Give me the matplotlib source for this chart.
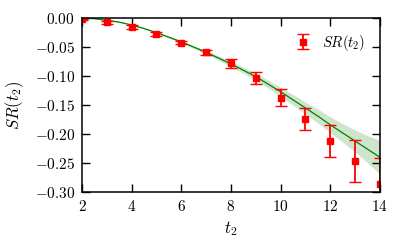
import numpy as np
import matplotlib
matplotlib.use("Agg")
import matplotlib.pyplot as plt
from matplotlib.ticker import FuncFormatter

plt.rcParams['mathtext.fontset'] = 'cm'

# the data
t2 = [2, 3, 4, 5, 6, 7, 8, 9, 10, 11, 12, 13, 14]
sr = [-0.002, -0.0075, -0.0155, -0.0277, -0.0425, -0.059, -0.078, -0.103,
      -0.137, -0.174, -0.212, -0.247, -0.287]
sr_err = [0.001, 0.003, 0.003, 0.003, 0.003, 0.004, 0.0075, 0.010,
          0.015, 0.019, 0.027, 0.036, 0.045]

# fit curve and its band
fit_t = [2, 2.5, 3, 3.5, 4, 4.5, 5, 5.5, 6, 6.5, 7, 7.5, 8, 8.5, 9, 9.5,
         10, 10.5, 11, 11.5, 12, 12.5, 13, 13.5, 14]
fit_y = [0.0, -0.001, -0.004, -0.007, -0.012, -0.018, -0.025, -0.033,
         -0.041, -0.050, -0.059, -0.069, -0.079, -0.090, -0.101, -0.114,
         -0.127, -0.141, -0.155, -0.169, -0.184, -0.198, -0.212, -0.226,
         -0.240]
fit_err = [0.0, 0.0003, 0.0005, 0.0008, 0.001, 0.0013, 0.0015, 0.0018,
           0.002, 0.0025, 0.003, 0.0037, 0.0045, 0.0052, 0.006, 0.0068,
           0.0077, 0.009, 0.0105, 0.012, 0.0137, 0.016, 0.019, 0.0235,
           0.029]

fig = plt.figure(figsize=(3.99, 2.44), dpi=100)
ax = fig.add_axes([0.2055, 0.213, 0.7465, 0.713])

fy = np.array(fit_y)
fe = np.array(fit_err)
ax.fill_between(fit_t, fy - fe, fy + fe, color='green', alpha=0.2, lw=0)
ax.plot(fit_t, fit_y, color='green', lw=0.9)

ax.errorbar(t2, sr, yerr=sr_err, fmt='s', color='red', ecolor='red',
            ms=5, mec='red', elinewidth=1.3, capsize=4.5, capthick=1,
            label=r'$SR(t_2)$')

ax.set_xlim(2, 14)
ax.set_ylim(-0.30, 0.0)
ax.set_xticks(np.arange(2, 15, 2))
ax.set_yticks(np.arange(-0.30, 0.001, 0.05))
ax.xaxis.set_major_formatter(FuncFormatter(lambda v, p: r'$%d$' % round(v)))
ax.yaxis.set_major_formatter(
    FuncFormatter(lambda v, p: r'$%.2f$' % (round(v, 2) + 0.0)))
ax.tick_params(direction='in', top=True, right=True, length=6, width=1,
               labelsize=11, pad=5)
for s in ax.spines.values():
    s.set_linewidth(1.1)

ax.set_xlabel(r'$t_2$', fontsize=12)
ax.set_ylabel(r'$SR(t_2)$', fontsize=12, labelpad=6)

ax.legend(loc='upper right', frameon=False, numpoints=1, fontsize=10.5,
          handletextpad=0.3, borderaxespad=0.6)

fig.savefig('out.png', dpi=100)
